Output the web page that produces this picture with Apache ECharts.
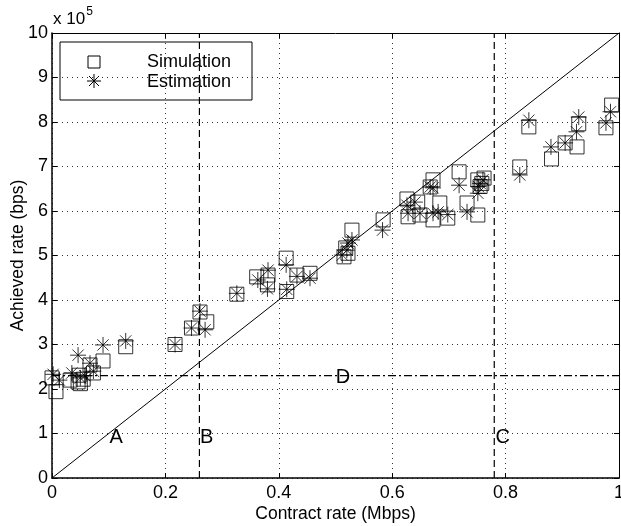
<!DOCTYPE html>
<html>
<head>
<meta charset="utf-8">
<script src="https://cdn.jsdelivr.net/npm/echarts@6/dist/echarts.min.js"></script>
<style>
  html, body { margin: 0; padding: 0; background: #fff; }
  #chart { width: 621px; height: 526px; }
</style>
</head>
<body>
<div id="chart"></div>
<script>
// Contract rate (Mbps) vs achieved rate (x 10^5 bps)
var simX = [0.000, 0.007, 0.032, 0.046, 0.048, 0.055, 0.050, 0.067, 0.073, 0.090, 0.130,
            0.217, 0.246, 0.261, 0.273, 0.326, 0.361, 0.381, 0.380, 0.413, 0.414, 0.432, 0.455,
            0.515, 0.518, 0.522, 0.529, 0.584, 0.626, 0.628, 0.649, 0.645, 0.672, 0.667, 0.672,
            0.684, 0.698, 0.718, 0.732, 0.751, 0.751, 0.758, 0.762, 0.755,
            0.825, 0.841, 0.881, 0.905, 0.926, 0.929, 0.977, 0.987];
var simY = [2.25, 1.94, 2.20, 2.16, 2.31, 2.22, 2.12, 2.54, 2.36, 2.63, 2.95,
            3.00, 3.37, 3.73, 3.51, 4.13, 4.52, 4.56, 4.34, 4.94, 4.19, 4.56, 4.60,
            4.97, 5.17, 5.05, 5.57, 5.80, 6.27, 5.87, 5.91, 6.20, 6.70, 6.54, 5.80,
            6.18, 5.84, 6.88, 6.18, 5.91, 6.70, 6.62, 6.74, 6.55,
            6.99, 7.89, 7.17, 7.53, 7.44, 7.96, 7.87, 8.38];
var estX = [0.002, 0.013, 0.035, 0.046, 0.050, 0.058, 0.067, 0.073, 0.090, 0.130,
            0.217, 0.246, 0.261, 0.270, 0.326, 0.363, 0.381, 0.380, 0.413, 0.414, 0.432, 0.455,
            0.512, 0.520, 0.522, 0.529, 0.583, 0.626, 0.628, 0.649, 0.640, 0.672, 0.667, 0.672,
            0.681, 0.698, 0.718, 0.732, 0.751, 0.755, 0.760, 0.752,
            0.825, 0.841, 0.880, 0.905, 0.925, 0.929, 0.977, 0.985];
var estY = [2.33, 2.20, 2.36, 2.76, 2.25, 2.30, 2.58, 2.40, 2.99, 3.08,
            3.00, 3.37, 3.75, 3.33, 4.15, 4.45, 4.67, 4.25, 4.79, 4.24, 4.53, 4.49,
            5.01, 5.12, 5.28, 5.35, 5.57, 6.13, 5.95, 5.95, 6.20, 6.52, 6.54, 5.95,
            5.98, 5.92, 6.58, 5.98, 6.40, 6.62, 6.70, 6.55,
            6.81, 8.04, 7.44, 7.53, 7.78, 8.11, 7.98, 8.23];

// reference lines
var diagX = [0, 1];
var diagY = [0, 10];
var lineB = 0.26;
var lineC = 0.78;
var lineD = 2.3;

// region letters
var regionNames = ['A', 'B', 'C', 'D'];
var regionX = [0.113, 0.273, 0.795, 0.513];
var regionY = [0.92, 0.92, 0.92, 2.25];

var xTicks = ['0', '0.2', '0.4', '0.6', '0.8', '1'];

var FONT = '"Liberation Sans", Arial, Helvetica, sans-serif';
var STAR = 'path://M0,-1L0,1M-1,0L1,0M-0.7071,-0.7071L0.7071,0.7071M-0.7071,0.7071L0.7071,-0.7071';

function pairs(xs, ys) { return xs.map(function (x, i) { return [x, ys[i]]; }); }

var chart = echarts.init(document.getElementById('chart'), null, { renderer: 'canvas' });

var gridLine = { show: true, lineStyle: { color: '#333', width: 1, type: [1, 4] } };

function legLine(x1, y1, x2, y2) {
  return { type: 'line', shape: { x1: x1, y1: y1, x2: x2, y2: y2 },
    style: { stroke: '#000', lineWidth: 1 } };
}

chart.setOption({
  animation: false,
  backgroundColor: '#fff',
  grid: { left: 52, right: 2, top: 33, bottom: 48, containLabel: false, outerBoundsMode: 'none' },
  xAxis: [{
    type: 'value', min: 0, max: 1, interval: 0.2,
    name: 'Contract rate (Mbps)', nameLocation: 'middle', nameGap: 27, nameMoveOverlap: false,
    nameTextStyle: { fontFamily: FONT, fontSize: 17.5, color: '#000' },
    axisLine: { show: true, onZero: false, lineStyle: { color: '#000', width: 1.5 } },
    axisTick: { show: true, inside: true, length: 5, lineStyle: { color: '#000' } },
    axisLabel: { fontFamily: FONT, fontSize: 18, color: '#000', margin: 6,
      formatter: function (v) { return xTicks[Math.round(v / 0.2)]; } },
    splitLine: gridLine
  }, {
    type: 'value', min: 0, max: 1, interval: 0.2, position: 'top',
    axisLine: { show: true, onZero: false, lineStyle: { color: '#000', width: 1 } },
    axisTick: { show: true, inside: true, length: 5, lineStyle: { color: '#000' } },
    axisLabel: { show: false }, splitLine: { show: false }
  }],
  yAxis: [{
    type: 'value', min: 0, max: 10, interval: 1,
    name: 'Achieved rate (bps)', nameLocation: 'middle', nameGap: 25, nameMoveOverlap: false,
    nameTextStyle: { fontFamily: FONT, fontSize: 17.5, color: '#000' },
    axisLine: { show: true, onZero: false, lineStyle: { color: '#000', width: 1.5 } },
    axisTick: { show: true, inside: true, length: 5, lineStyle: { color: '#000' } },
    axisLabel: { fontFamily: FONT, fontSize: 18, color: '#000', margin: 4 },
    splitLine: gridLine
  }, {
    type: 'value', min: 0, max: 10, interval: 1, position: 'right',
    axisLine: { show: true, onZero: false, lineStyle: { color: '#000', width: 1 } },
    axisTick: { show: true, inside: true, length: 5, lineStyle: { color: '#000' } },
    axisLabel: { show: false }, splitLine: { show: false }
  }],
  series: [
    {
      name: 'diagonal', type: 'line', data: pairs(diagX, diagY), symbol: 'none',
      lineStyle: { color: '#000', width: 1 }, z: 2, silent: true
    },
    {
      name: 'B', type: 'line', data: [[lineB, 0], [lineB, 10]], symbol: 'none',
      lineStyle: { color: '#000', width: 1.2, type: [7, 4] }, z: 2, silent: true
    },
    {
      name: 'C', type: 'line', data: [[lineC, 0], [lineC, 10]], symbol: 'none',
      lineStyle: { color: '#000', width: 1.2, type: [7, 4] }, z: 2, silent: true
    },
    {
      name: 'D', type: 'line', data: [[0, lineD], [1, lineD]], symbol: 'none',
      lineStyle: { color: '#000', width: 1.2, type: [8, 3, 2, 3] }, z: 2, silent: true
    },
    {
      name: 'Simulation', type: 'scatter', data: pairs(simX, simY),
      symbol: 'rect', symbolSize: 14,
      itemStyle: { color: 'rgba(0,0,0,0)', borderColor: '#000', borderWidth: 1 }, z: 3
    },
    {
      name: 'Estimation', type: 'scatter', data: pairs(estX, estY),
      symbol: STAR, symbolSize: 16,
      itemStyle: { color: 'rgba(0,0,0,0)', borderColor: '#000', borderWidth: 1 }, z: 4
    },
    {
      name: 'regions', type: 'scatter', symbol: 'circle', symbolSize: 0.5, silent: true, z: 5,
      itemStyle: { color: '#000', opacity: 1 },
      data: regionNames.map(function (n, i) { return { name: n, value: [regionX[i], regionY[i]] }; }),
      label: { show: true, position: 'inside', formatter: '{b}', opacity: 1,
        fontFamily: FONT, fontSize: 20, color: '#000', textBorderWidth: 0 }
    }
  ],
  graphic: [
    {
      type: 'text', x: 53, y: 6, z: 10,
      style: {
        text: '{a|x 10}{b|5}', fill: '#000',
        rich: {
          a: { fontFamily: FONT, fontSize: 17, fill: '#000', verticalAlign: 'bottom', lineHeight: 22 },
          b: { fontFamily: FONT, fontSize: 12, fill: '#000', verticalAlign: 'top', lineHeight: 22, padding: [0, 0, 12, 1] }
        }
      }
    },
    {
      type: 'group', x: 60, y: 42, z: 20,
      children: [
        { type: 'rect', shape: { x: 0, y: 0, width: 192, height: 58 },
          style: { fill: '#fff', stroke: '#000', lineWidth: 1 } },
        { type: 'rect', shape: { x: 28, y: 14, width: 12, height: 12 },
          style: { fill: 'none', stroke: '#000', lineWidth: 1 } },
        legLine(34, 32, 34, 46),
        legLine(27, 39, 41, 39),
        legLine(29, 34, 39, 44),
        legLine(29, 44, 39, 34),
        { type: 'text', x: 87, y: 20, style: { text: 'Simulation', fontFamily: FONT, fontSize: 18,
          fill: '#000', verticalAlign: 'middle' } },
        { type: 'text', x: 87, y: 40, style: { text: 'Estimation', fontFamily: FONT, fontSize: 18,
          fill: '#000', verticalAlign: 'middle' } }
      ]
    }
  ]
});
</script>
</body>
</html>
